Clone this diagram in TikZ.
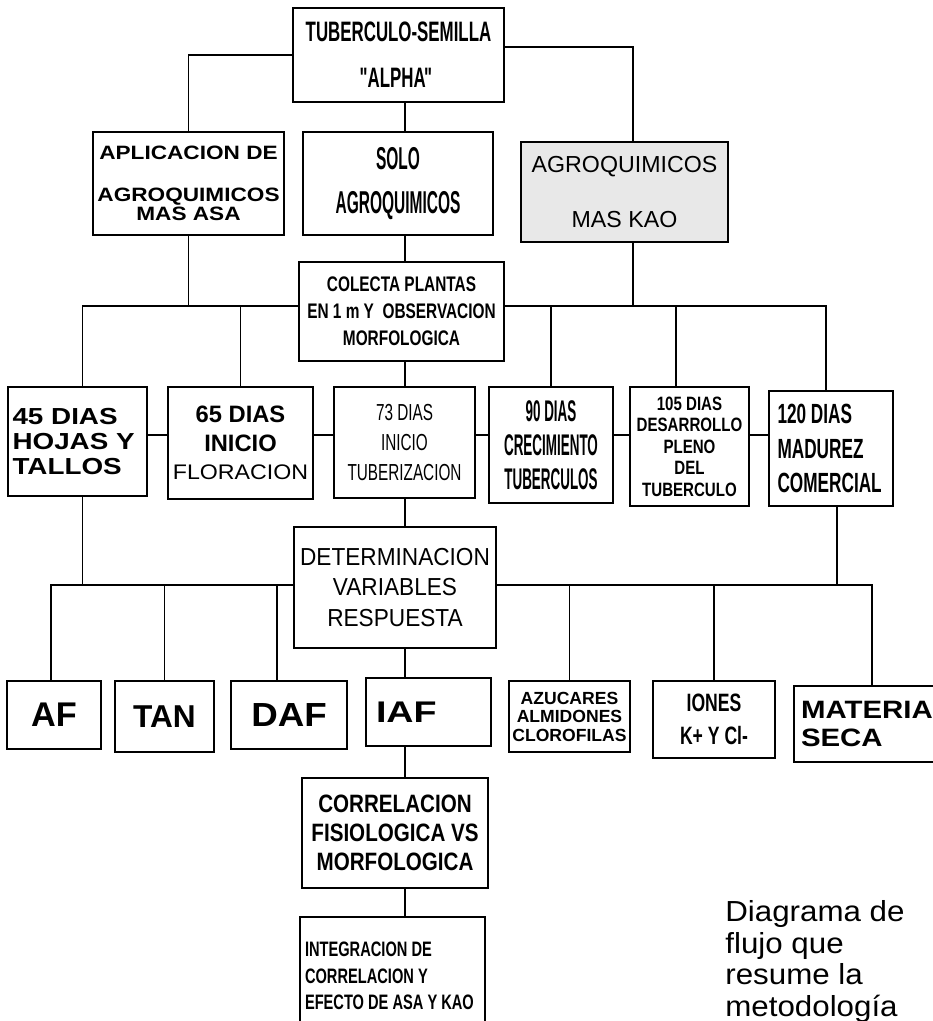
\documentclass[tikz,border=0pt]{standalone}
\usepackage{fontspec}
\setmainfont{Liberation Sans}
\usetikzlibrary{positioning}

% size, baselineskip, horizontal stretch
\newcommand{\fnt}[3]{\fontsize{#1}{#2}\selectfont\addfontfeatures{FakeStretch=#3}}

\begin{document}
\begin{tikzpicture}[
    x=0.02cm, y=-0.02cm,
    box/.style={draw, line width=1.1pt, fill=white, inner sep=0pt, align=center},
    link/.style={line width=0.6pt}
]
\useasboundingbox (0,0) rectangle (933,1021);
\clip (0,0) rectangle (933,1021);

% first levels
\node[box, minimum width=4.22cm, minimum height=1.88cm, font={\bfseries\fnt{16}{26}{0.6}}] (top) at (398.5,55) {TUBERCULO-SEMILLA\\{\textquotedbl}\kern-3pt ALPHA\kern-1pt{\textquotedbl}};
\node[box, minimum width=3.82cm, minimum height=2.06cm, font={\bfseries\fnt{11}{11}{1.17}}] (aplica) at (188.5,183.5) {APLICACION DE\\[4.4mm]AGROQUIMICOS\\MAS ASA};
\node[box, minimum width=3.80cm, minimum height=2.06cm, font={\bfseries\fnt{18}{25}{0.49}}] (solo) at (398,183.5) {SOLO\\AGROQUIMICOS};
\node[box, fill=gray!18, minimum width=4.14cm, minimum height=2.00cm, font={\fnt{13.2}{31}{1}}] (kao) at (624.5,192) {AGROQUIMICOS\\MAS KAO};
\node[box, minimum width=4.10cm, minimum height=1.98cm, font={\bfseries\fnt{12}{15.3}{0.73}}] (colecta) at (401.5,311.5) {COLECTA PLANTAS\\EN 1 m Y~ OBSERVACION\\MORFOLOGICA};

% sampling dates
\node[box, minimum width=2.78cm, minimum height=2.18cm, text width=2.6cm, align=flush left, font={\bfseries\fnt{13.2}{14.5}{1.2}}] (d45) at (77.5,441.5) {45 DIAS\\HOJAS Y\\TALLOS};
\node[box, minimum width=2.90cm, minimum height=2.24cm, font={\bfseries\fnt{13.5}{16.4}{1}}] (d65) at (240.5,443) {65 DIAS\\INICIO\\{\mdseries\fnt{12}{16.4}{1.1}FLORACION}};
\node[box, minimum width=2.82cm, minimum height=2.22cm, font={\fnt{13.2}{17}{0.66}}] (d73) at (404.5,442.5) {73 DIAS\\INICIO\\TUBERIZACION};
\node[box, minimum width=2.48cm, minimum height=2.32cm, font={\bfseries\fnt{17}{19.5}{0.45}}] (d90) at (551,445) {90 DIAS\\CRECIMIENTO\\TUBERCULOS};
\node[box, minimum width=2.38cm, minimum height=2.38cm, font={\bfseries\fnt{11}{12.2}{0.78}}] (d105) at (689.5,446.5) {105 DIAS\\DESARROLLO\\PLENO\\DEL\\TUBERCULO};
\node[box, minimum width=2.48cm, minimum height=2.30cm, text width=2.14cm, align=flush left, font={\bfseries\fnt{15.8}{19.8}{0.62}}] (d120) at (831,448.5) {120 DIAS\\MADUREZ\\COMERCIAL};

\node[box, minimum width=4.04cm, minimum height=2.42cm, font={\fnt{14}{17.6}{0.92}}] (deter) at (395,587.5) {DETERMINACION\\VARIABLES\\RESPUESTA};

% response variables
\node[box, minimum width=1.88cm, minimum height=1.36cm, font={\bfseries\fnt{19.5}{20}{1}}] (af) at (54,715) {AF};
\node[box, minimum width=1.98cm, minimum height=1.42cm, font={\bfseries\fnt{18}{20}{1}}] (tan) at (164.5,716.5) {TAN};
\node[box, minimum width=2.32cm, minimum height=1.36cm, font={\bfseries\fnt{19}{20}{1.1}}] (daf) at (289,715) {DAF};
\node[box, minimum width=2.50cm, minimum height=1.36cm, text width=2.1cm, align=flush left, font={\bfseries\fnt{17}{20}{1.26}}] (iaf) at (428.5,712) {IAF};
\node[box, minimum width=2.42cm, minimum height=1.42cm, font={\bfseries\fnt{10}{10.5}{1}}] (azuc) at (569.5,716.5) {AZUCARES\\ALMIDONES\\CLOROFILAS};
\node[box, minimum width=2.44cm, minimum height=1.54cm, font={\bfseries\fnt{14.3}{18.7}{0.7}}] (iones) at (714,719.5) {IONES\\K+ Y Cl-};
\node[box, minimum width=3.32cm, minimum height=1.52cm, text width=3.04cm, align=flush left, font={\bfseries\fnt{14.3}{16.4}{1.17}}] (materia) at (877,724) {MATERIA\\SECA};

\node[box, minimum width=3.72cm, minimum height=2.20cm, font={\bfseries\fnt{14.3}{16.4}{0.82}}] (correl) at (395,833) {CORRELACION\\FISIOLOGICA VS\\MORFOLOGICA};
\node[box, minimum width=3.70cm, minimum height=2.36cm, text width=3.5cm, align=flush left, font={\bfseries\fnt{11.9}{15}{0.7}}] (integ) at (392.5,976) {INTEGRACION DE\\CORRELACION Y\\EFECTO DE ASA Y KAO\\[5pt]};

\node[anchor=north west, inner sep=0pt, text width=4cm, align=flush left, font={\fnt{16.5}{18.1}{1.08}}] (nota) at (725,900) {Diagrama de\\flujo que\\resume la\\metodología};

% connectors
\coordinate (spine) at (405,0);
\coordinate (busa) at (0,306);
\coordinate (busb) at (0,585);
\coordinate (rowline) at (0,435);

\draw[link] (top.west) -| (aplica.north);
\draw[link] (spine |- top.south) -- (spine |- solo.north);
\draw[link] ([yshift=0.16cm]top.east) -| ([xshift=0.17cm]kao.north);

\draw[link] (aplica.south) -- (aplica.south |- busa);
\draw[link] ([xshift=0.17cm]kao.south) -- ([xshift=0.17cm]kao.south |- busa);
\draw[link] (spine |- solo.south) -- (spine |- colecta.north);
\draw[link] (spine |- colecta.south) -- (spine |- d73.north);
\draw[link] ([xshift=0.1cm]d45.north) |- (colecta.west |- busa);
\draw[link] (colecta.east |- busa) -| ([xshift=-0.1cm]d120.north);
\draw[link] (d65.north) -- (d65.north |- busa);
\draw[link] (d90.north) -- (d90.north |- busa);
\draw[link] ([xshift=-0.27cm]d105.north) -- ([xshift=-0.27cm]d105.north |- busa);

\foreach \a/\b in {d45/d65, d65/d73, d73/d90, d90/d105, d105/d120}
    \draw[link] (\a.east |- rowline) -- (\b.west |- rowline);

\draw[link] (spine |- d73.south) -- (spine |- deter.north);
\draw[link] ([xshift=0.1cm]d45.south) -- ([xshift=0.1cm]d45.south |- busb);
\draw[link] ([xshift=0.12cm]d120.south) -- ([xshift=0.12cm]d120.south |- busb);
\draw[link] ([xshift=-0.06cm]af.north) |- (deter.west |- busb);
\draw[link] ([xshift=-0.1cm]materia.north) |- (deter.east |- busb);
\draw[link] (tan.north) -- (tan.north |- busb);
\draw[link] ([xshift=-0.24cm]daf.north) -- ([xshift=-0.24cm]daf.north |- busb);
\draw[link] (azuc.north) -- (azuc.north |- busb);
\draw[link] (iones.north) -- (iones.north |- busb);

\draw[link] (spine |- deter.south) -- (spine |- iaf.north);
\draw[link] (spine |- iaf.south) -- (spine |- correl.north);
\draw[link] (spine |- correl.south) -- (spine |- integ.north);

\end{tikzpicture}
\end{document}
